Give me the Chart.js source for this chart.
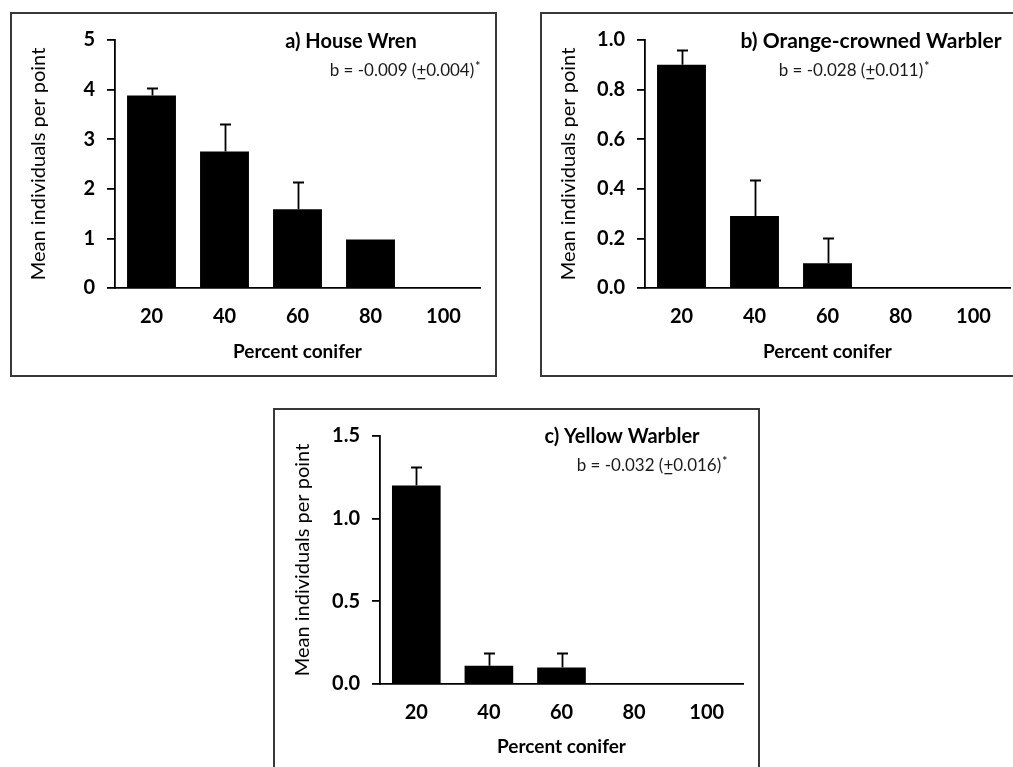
<!DOCTYPE html>
<html>
<head>
<meta charset="utf-8">
<script src="https://cdn.jsdelivr.net/npm/chart.js@4.4.1/dist/chart.umd.min.js"></script>
<style>
  html, body { margin: 0; padding: 0; background: #fff; width: 1013px; height: 767px; overflow: hidden; }
  .panel { position: absolute; box-sizing: border-box; border: 2px solid #383838; background: #fff; }
  .panel canvas { position: absolute; left: 0; top: 0; }
</style>
</head>
<body>
<div class="panel" id="pa"><canvas id="ca"></canvas></div>
<div class="panel" id="pb"><canvas id="cb"></canvas></div>
<div class="panel" id="pc"><canvas id="cc"></canvas></div>
<script>
// ====== DATA ======
const conifer = ["20", "40", "60", "80", "100"];

const wrenMean = [3.88, 2.75, 1.59, 0.98, 0];
const wrenSE = [0.15, 0.56, 0.55, 0, 0];
const wrenTicks = [0, 1, 2, 3, 4, 5];

const ocwaMean = [0.9, 0.29, 0.1, 0, 0];
const ocwaSE = [0.06, 0.145, 0.1, 0, 0];
const ocwaTicks = [0, 0.2, 0.4, 0.6, 0.8, 1.0];

const yewaMean = [1.2, 0.11, 0.1, 0, 0];
const yewaSE = [0.11, 0.08, 0.09, 0, 0];
const yewaTicks = [0, 0.5, 1.0, 1.5];

const xTitle = "Percent conifer";
const yTitle = "Mean individuals per point";

// ====== STYLE ======
const FONT = "Lato";
const tickFont = { family: FONT, weight: "bold", size: 20 };
const xTitleFont = { family: FONT, weight: "bold", size: 19 };
const yTitleFont = { family: FONT, size: 20 };

// error bars (upper only, like the original)
const errorBars = {
  id: "errorBars",
  afterDatasetsDraw(chart, args, opts) {
    const { ctx } = chart;
    const y = chart.scales.y;
    const meta = chart.getDatasetMeta(0);
    const vals = chart.data.datasets[0].data;
    ctx.save();
    ctx.strokeStyle = "#000";
    ctx.lineWidth = 1.8;
    meta.data.forEach((bar, i) => {
      if (!opts.se[i]) return;
      const top = Math.round(y.getPixelForValue(vals[i] + opts.se[i])) + 0.5;
      const x = Math.round(bar.x) + 0.5;
      ctx.beginPath();
      ctx.moveTo(x, bar.y);
      ctx.lineTo(x, top);
      ctx.moveTo(x - 5.5, top);
      ctx.lineTo(x + 5.5, top);
      ctx.stroke();
    });
    ctx.restore();
  },
};

// species name + slope line "b = ... (±...)*" with underlined plus
const panelText = {
  id: "panelText",
  afterDraw(chart, args, o) {
    const { ctx } = chart;
    ctx.save();
    ctx.fillStyle = "#000";
    ctx.textBaseline = "middle";
    ctx.textAlign = "center";
    ctx.font = `bold ${o.nameSize}px ${FONT}`;
    ctx.fillText(o.name, o.nameX, o.nameY);

    const sf = `17px ${FONT}`;
    const af = `bold 12px ${FONT}`;
    ctx.font = sf;
    ctx.fillStyle = "#1a1a1a";
    const p1 = `b = ${o.slope} (`;
    const p2 = "+";
    const p3 = `${o.slopeSE})`;
    const w1 = ctx.measureText(p1).width;
    const w2 = ctx.measureText(p2).width;
    const w3 = ctx.measureText(p3).width;
    ctx.font = af;
    const w4 = ctx.measureText("*").width;
    let x = o.statX - (w1 + w2 + w3 + w4 + 1) / 2;
    ctx.textAlign = "left";
    ctx.font = sf;
    ctx.fillText(p1, x, o.statY);
    x += w1;
    ctx.fillText(p2, x, o.statY);
    ctx.fillRect(x + 1, o.statY + 7, w2 - 2, 1.3);
    x += w2;
    ctx.fillText(p3, x, o.statY);
    x += w3 + 1;
    ctx.font = af;
    ctx.fillText("*", x, o.statY - 5);
    ctx.restore();
  },
};

function makePanel(id, canvasId, g) {
  const wrap = document.getElementById(id);
  const [bl, bt, br, bb] = g.box;
  wrap.style.left = bl + "px";
  wrap.style.top = bt + "px";
  wrap.style.width = br - bl + "px";
  wrap.style.height = bb - bt + "px";
  const ox = bl + 2, oy = bt + 2;
  const W = br - bl - 4, H = bb - bt - 4;
  const cv = document.getElementById(canvasId);
  cv.width = W;
  cv.height = H;

  const [al, at, ar, ab] = g.area;
  const axisW = al - ox;
  const axisH = H - (ab - oy);
  const yLH = yTitleFont.size * 1.2;
  const xLH = xTitleFont.size * 1.2;

  new Chart(cv, {
    type: "bar",
    data: {
      labels: conifer,
      datasets: [{
        data: g.mean,
        backgroundColor: "#000",
        borderWidth: 0,
        categoryPercentage: 1,
        barPercentage: 0.67,
      }],
    },
    plugins: [errorBars, panelText],
    options: {
      responsive: false,
      animation: false,
      events: [],
      layout: { padding: { left: 0, top: at - oy, right: W - (ar - ox), bottom: 0 } },
      plugins: {
        legend: { display: false },
        tooltip: { enabled: false },
        errorBars: { se: g.se },
        panelText: {
          name: g.name, nameSize: g.nameSize, slope: g.slope, slopeSE: g.slopeSE,
          nameX: g.nameAt[0] - ox, nameY: g.nameAt[1] - oy,
          statX: g.statAt[0] - ox, statY: g.statAt[1] - oy,
        },
      },
      scales: {
        x: {
          offset: true,
          grid: { drawOnChartArea: false, drawTicks: false },
          border: { color: "#000", width: 1.8 },
          ticks: { color: "#000", font: tickFont, padding: 17, maxRotation: 0 },
          title: {
            display: true, text: xTitle, color: "#000", font: xTitleFont,
            padding: { top: 0, bottom: (H - (g.xTitleY - oy)) - xLH / 2 },
          },
          afterFit: (s) => { s.height = axisH; },
        },
        y: {
          min: 0,
          max: g.ticks[g.ticks.length - 1],
          afterBuildTicks: (s) => { s.ticks = g.ticks.map((v) => ({ value: v })); },
          grid: { drawOnChartArea: false, drawTicks: true, tickLength: 8, color: "#000", lineWidth: 1.8 },
          border: { color: "#000", width: 1.8 },
          ticks: { color: "#000", font: tickFont, padding: 12, callback: (v) => v.toFixed(g.dec) },
          title: {
            display: true, text: yTitle, color: "#000", font: yTitleFont,
            padding: { top: (g.yTitleX - ox) - yLH / 2, bottom: 0 },
          },
          afterFit: (s) => { s.width = axisW; },
        },
      },
    },
  });
}

makePanel("pa", "ca", {
  box: [10, 12, 497, 377], area: [115, 40, 480, 288],
  mean: wrenMean, se: wrenSE, ticks: wrenTicks, dec: 0,
  name: "a) House Wren", nameSize: 20, slope: "-0.009", slopeSE: "0.004",
  nameAt: [351, 42], statAt: [405, 71], xTitleY: 352, yTitleX: 39,
});

makePanel("pb", "cb", {
  box: [540, 12, 1016, 377], area: [645, 40, 1010, 288],
  mean: ocwaMean, se: ocwaSE, ticks: ocwaTicks, dec: 1,
  name: "b) Orange-crowned Warbler", nameSize: 21, slope: "-0.028", slopeSE: "0.011",
  nameAt: [871, 41], statAt: [854, 71], xTitleY: 352, yTitleX: 569,
});

makePanel("pc", "cc", {
  box: [273, 408, 760, 790], area: [380, 436, 743, 684],
  mean: yewaMean, se: yewaSE, ticks: yewaTicks, dec: 1,
  name: "c) Yellow Warbler", nameSize: 20, slope: "-0.032", slopeSE: "0.016",
  nameAt: [622, 437], statAt: [652, 466], xTitleY: 747, yTitleX: 303,
});
</script>
</body>
</html>
